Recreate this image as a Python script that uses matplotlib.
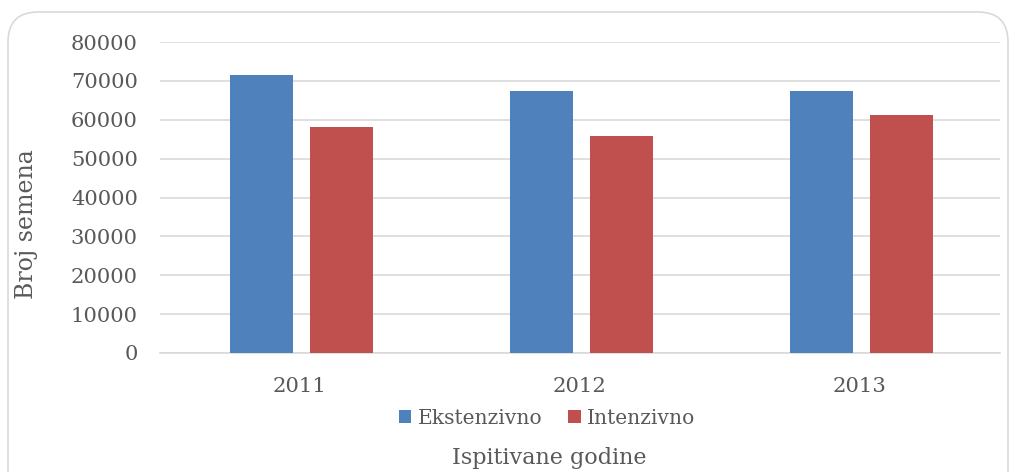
import matplotlib.pyplot as plt
import numpy as np
from matplotlib.patches import FancyBboxPatch

years = ['2011', '2012', '2013']
ekstenzivno = [71400, 67400, 67400]
intenzivno = [58100, 55800, 61200]

plt.rcParams['font.family'] = ['DejaVu Serif']

fig = plt.figure(figsize=(10.15, 4.72), dpi=100)

# rounded frame around the chart, drawn on a background axes in pixel units
bg = fig.add_axes([0, 0, 1, 1], zorder=-1)
bg.set_xlim(0, 1015)
bg.set_ylim(472, 0)
bg.axis('off')
bg.add_patch(FancyBboxPatch((8, 12), 1000, 490, boxstyle='round,pad=0,rounding_size=30',
                            facecolor='white', edgecolor='#D9D9D9', linewidth=1.2))

ax = fig.add_axes([160 / 1015, 1 - 353 / 472, 840 / 1015, 311 / 472])
ax.set_facecolor('none')
x = np.arange(len(years))
w = 0.225
ax.bar(x - 0.139, ekstenzivno, w, color='#4F81BD', label='Ekstenzivno', zorder=3)
ax.bar(x + 0.149, intenzivno, w, color='#C0504D', label='Intenzivno', zorder=3)

ax.set_xlim(-0.5, 2.5)
ax.set_ylim(0, 80000)
ax.set_yticks(range(0, 80001, 10000))
ax.set_xticks(x)
ax.set_xticklabels(years)
ax.grid(axis='y', color='#D9D9D9', linewidth=1.2, zorder=0)
for s in ['top', 'right', 'left']:
    ax.spines[s].set_visible(False)
ax.spines['bottom'].set_color('#D9D9D9')
ax.spines['bottom'].set_linewidth(1.2)
ax.tick_params(length=0, labelsize=15.2, labelcolor='#595959')
ax.tick_params(axis='y', pad=16)
ax.tick_params(axis='x', pad=17)

fig.text(27 / 1015, 1 - 224 / 472, 'Broj semena', fontsize=17, rotation=90,
         color='#595959', ha='center', va='center')
fig.text(549 / 1015, 1 - 458 / 472, 'Ispitivane godine', fontsize=16,
         color='#595959', ha='center', va='center')
fig.legend(loc='center', bbox_to_anchor=(547 / 1015, 1 - 418 / 472), ncol=2,
           frameon=False, fontsize=14.6, handlelength=0.6, handleheight=0.6,
           handletextpad=0.3, columnspacing=1.3, labelcolor='#595959')

fig.savefig('out.png', dpi=100)
